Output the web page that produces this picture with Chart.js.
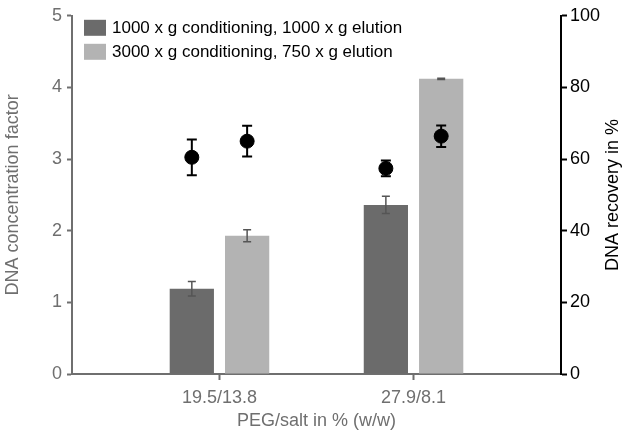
<!DOCTYPE html>
<html>
<head>
<meta charset="utf-8">
<script src="https://cdn.jsdelivr.net/npm/chart.js@4/dist/chart.umd.min.js"></script>
<style>
  html, body { margin: 0; padding: 0; background: #fff; }
  #wrap { width: 628px; height: 435px; }
</style>
</head>
<body>
<div id="wrap"><canvas id="dnaChart" width="628" height="435"></canvas></div>
<script>
// data
const categories = ['19.5/13.8', '27.9/8.1'];
const seriesNames = ['1000 x g conditioning, 1000 x g elution', '3000 x g conditioning, 750 x g elution'];
const concFactorA = [1.19, 2.36];
const concFactorAErr = [0.10, 0.12];
const concFactorB = [1.93, 4.12];
const concFactorBErr = [0.085, 0.01];
const recoveryA = [60.5, 57.4];
const recoveryAErr = [5.0, 2.2];
const recoveryB = [65.0, 66.4];
const recoveryBErr = [4.3, 3.0];
const leftTicks = [0, 1, 2, 3, 4, 5];
const rightTicks = [0, 20, 40, 60, 80, 100];

const GRAY = '#6f6f6f';
const DARK = '#6b6b6b';
const LIGHT = '#b3b3b3';
const CAT_PCT = 0.57;
const BAR_PCT = 0.8;
const FONT = "'Liberation Sans', Arial, sans-serif";

// error bars drawn from the dataset's own elements and y scale
const errorBars = {
  id: 'errorBars',
  afterDatasetsDraw(chart) {
    const ctx = chart.ctx;
    chart.data.datasets.forEach((ds, di) => {
      if (!ds.errors) return;
      const meta = chart.getDatasetMeta(di);
      const scale = chart.scales[meta.yAxisID];
      meta.data.forEach((el, i) => {
        const v = ds.type === 'scatter' ? ds.data[i].y : ds.data[i];
        const e = ds.errors[i];
        const yTop = scale.getPixelForValue(v + e);
        const yBot = scale.getPixelForValue(v - e);
        const w = ds.capHalf;
        ctx.save();
        ctx.strokeStyle = ds.errorColor;
        ctx.lineWidth = ds.errorWidth;
        ctx.beginPath();
        ctx.moveTo(el.x, yTop); ctx.lineTo(el.x, yBot);
        ctx.moveTo(el.x - w, yTop); ctx.lineTo(el.x + w, yTop);
        ctx.moveTo(el.x - w, yBot); ctx.lineTo(el.x + w, yBot);
        ctx.stroke();
        ctx.restore();
      });
    });
  }
};

// legend inside the plot + right axis title reading bottom to top
const extras = {
  id: 'extras',
  afterDraw(chart) {
    const ctx = chart.ctx;
    const area = chart.chartArea;
    ctx.save();
    ctx.font = '17px ' + FONT;
    ctx.textBaseline = 'middle';
    ctx.fillStyle = '#000';
    chart.data.datasets.filter(d => d.type === 'bar').forEach((ds, i) => {
      const y = area.top + 4 + i * 24;
      ctx.fillStyle = ds.backgroundColor;
      ctx.fillRect(area.left + 12, y, 22, 16);
      ctx.fillStyle = '#000';
      ctx.fillText(ds.label, area.left + 40, y + 8.5);
    });
    const y2 = chart.scales.y2;
    ctx.translate(y2.right - 15, (area.top + area.bottom) / 2);
    ctx.rotate(-Math.PI / 2);
    ctx.textAlign = 'center';
    ctx.font = '18px ' + FONT;
    ctx.fillText('DNA recovery in %', 0, 0);
    ctx.restore();
  }
};

const ctx = document.getElementById('dnaChart').getContext('2d');
new Chart(ctx, {
  data: {
    datasets: [
      {
        type: 'scatter',
        label: 'recovery A',
        data: categories.map((c, i) => ({ x: i - CAT_PCT / 4, y: recoveryA[i] })),
        yAxisID: 'y2',
        backgroundColor: '#000',
        borderColor: '#000',
        pointRadius: 7,
        errors: recoveryAErr,
        errorColor: '#000',
        errorWidth: 2,
        capHalf: 5,
        order: 0,
      },
      {
        type: 'scatter',
        label: 'recovery B',
        data: categories.map((c, i) => ({ x: i + CAT_PCT / 4, y: recoveryB[i] })),
        yAxisID: 'y2',
        backgroundColor: '#000',
        borderColor: '#000',
        pointRadius: 7,
        errors: recoveryBErr,
        errorColor: '#000',
        errorWidth: 2,
        capHalf: 5,
        order: 0,
      },
      {
        type: 'bar',
        label: seriesNames[0],
        data: concFactorA,
        backgroundColor: DARK,
        yAxisID: 'y',
        categoryPercentage: CAT_PCT,
        barPercentage: BAR_PCT,
        errors: concFactorAErr,
        errorColor: '#555',
        errorWidth: 1.5,
        capHalf: 4,
        order: 1,
      },
      {
        type: 'bar',
        label: seriesNames[1],
        data: concFactorB,
        backgroundColor: LIGHT,
        yAxisID: 'y',
        categoryPercentage: CAT_PCT,
        barPercentage: BAR_PCT,
        errors: concFactorBErr,
        errorColor: '#555',
        errorWidth: 1.5,
        capHalf: 4,
        order: 1,
      },
    ],
    labels: categories.map((c, i) => i),
  },
  options: {
    responsive: false,
    animation: false,
    layout: { padding: { top: 15, left: 0, right: 0, bottom: 0 } },
    plugins: { legend: { display: false }, tooltip: { enabled: false } },
    scales: {
      x: {
        type: 'linear',
        min: -0.76,
        max: 1.76,
        offset: false,
        bounds: 'data',
        afterBuildTicks: (scale) => { scale.ticks = categories.map((c, i) => ({ value: i })); },
        afterFit: (scale) => { scale.height = 61; },
        ticks: {
          callback: (v) => categories[v],
          color: GRAY,
          font: { family: FONT, size: 18 },
          padding: 7,
          maxRotation: 0,
        },
        grid: { display: true, offset: false, drawOnChartArea: false, tickLength: 6, tickColor: GRAY, tickWidth: 2 },
        border: { color: GRAY, width: 2 },
        title: {
          display: true,
          text: 'PEG/salt in % (w/w)',
          color: GRAY,
          font: { family: FONT, size: 18 },
          padding: { top: 0, bottom: 3 },
        },
      },
      y: {
        position: 'left',
        min: 0,
        max: 5,
        afterBuildTicks: (scale) => { scale.ticks = leftTicks.map(v => ({ value: v })); },
        afterFit: (scale) => { scale.width = 72; },
        ticks: { color: GRAY, font: { family: FONT, size: 18 }, padding: 5 },
        grid: { display: true, drawOnChartArea: false, tickLength: 5, tickColor: GRAY, tickWidth: 2 },
        border: { color: GRAY, width: 2 },
        title: {
          display: true,
          text: 'DNA concentration factor',
          color: GRAY,
          font: { family: FONT, size: 18 },
          padding: { top: 2, bottom: 0 },
        },
      },
      y2: {
        position: 'right',
        min: 0,
        max: 100,
        afterBuildTicks: (scale) => { scale.ticks = rightTicks.map(v => ({ value: v })); },
        afterFit: (scale) => { scale.width = 67; },
        ticks: { color: '#000', font: { family: FONT, size: 18 }, padding: 3 },
        grid: { display: true, drawOnChartArea: false, tickLength: 6, tickColor: '#000', tickWidth: 2 },
        border: { color: '#000', width: 2 },
      },
    },
  },
  plugins: [errorBars, extras],
});
</script>
</body>
</html>
